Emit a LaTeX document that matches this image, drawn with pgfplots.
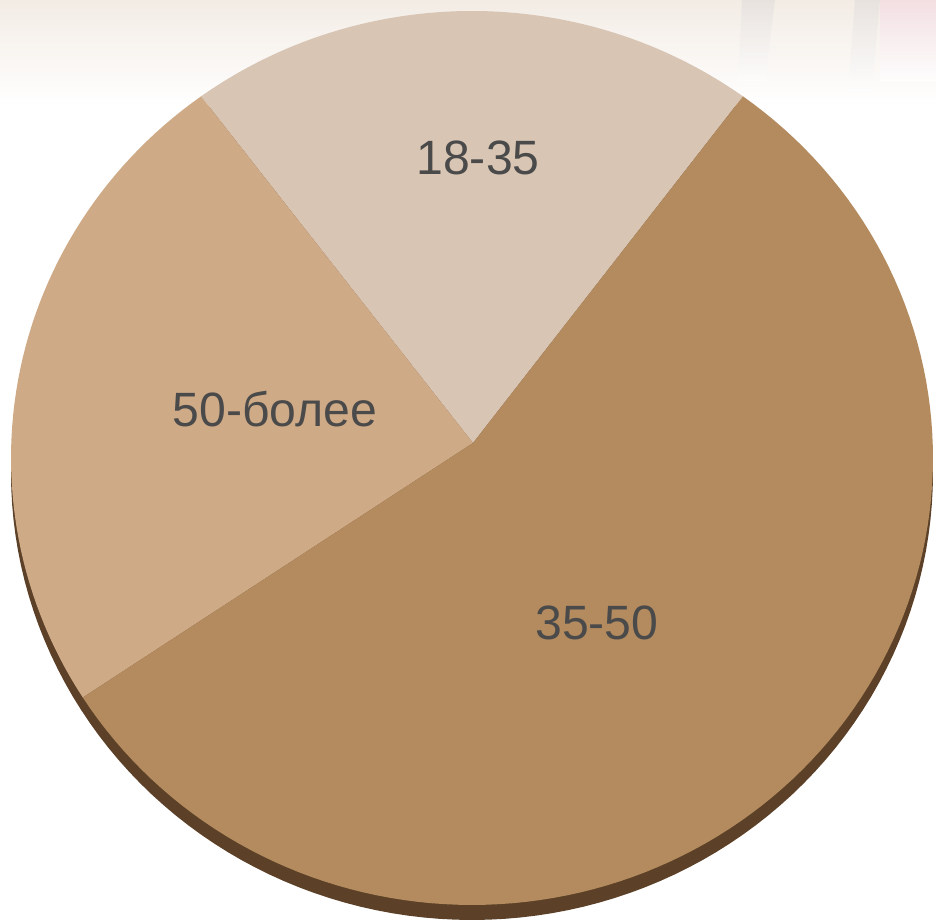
\documentclass[border=0pt]{standalone}
\usepackage{pgfplots}
\pgfplotsset{compat=1.18}
\usepackage{fontspec}
\setmainfont{Liberation Sans}
\definecolor{cA}{HTML}{D8C5B4}
\definecolor{cB}{HTML}{CFAA87}
\definecolor{cC}{HTML}{B38B5F}
\definecolor{rim}{HTML}{5C4128}
\definecolor{txt}{HTML}{4A4A4A}
\definecolor{bgtop}{HTML}{F3ECE5}
\definecolor{smear}{HTML}{DCD8D8}
\definecolor{pinkish}{HTML}{F3DCE2}
\begin{document}
\begin{tikzpicture}
% shares (percent)
\pgfmathsetmacro{\vA}{20}  % 18-35
\pgfmathsetmacro{\vB}{24}  % 50-более
\pgfmathsetmacro{\vC}{56}  % 35-50
\pgfmathsetmacro{\aStart}{54}
\pgfmathsetmacro{\aOne}{\aStart+3.6*\vA}
\pgfmathsetmacro{\aTwo}{\aOne+3.6*\vB}
\pgfmathsetmacro{\aEnd}{\aTwo+3.6*\vC}
\begin{axis}[scale only axis, width=9.36cm, height=9.21cm,
  xmin=0, xmax=936, ymin=0, ymax=921, hide axis, clip=true]
% background
\addplot[draw=none, fill=white] coordinates {(0,0) (936,0) (936,921) (0,921)} -- cycle;
\addplot[draw=none, top color=bgtop, bottom color=white] coordinates {(0,921) (936,921) (936,815) (0,815)} -- cycle;
\addplot[draw=none, top color=smear, bottom color=white, opacity=0.45] coordinates {(742,921) (775,921) (765,840) (738,840)} -- cycle;
\addplot[draw=none, top color=smear, bottom color=white, opacity=0.45] coordinates {(855,921) (880,921) (872,830) (848,830)} -- cycle;
\addplot[draw=none, top color=pinkish, bottom color=white, opacity=0.8] coordinates {(880,921) (936,921) (936,840) (880,840)} -- cycle;
% 3D rim
\addplot[draw=none, fill=rim, domain=0:360, samples=181, variable=\t]
  ({472+461*cos(t)},{448+447*sin(t)}) -- cycle;
% sectors
\addplot[draw=none, fill=cA, domain=\aStart:\aOne, samples=60, variable=\t]
  ({472+461*cos(t)},{463+447*sin(t)}) -- (axis cs:473,478) -- cycle;
\addplot[draw=none, fill=cB, domain=\aOne:\aTwo, samples=60, variable=\t]
  ({472+461*cos(t)},{463+447*sin(t)}) -- (axis cs:473,478) -- cycle;
\addplot[draw=none, fill=cC, domain=\aTwo:\aEnd, samples=120, variable=\t]
  ({472+461*cos(t)},{463+447*sin(t)}) -- (axis cs:473,478) -- cycle;
% labels
\node[font=\fontsize{13.7}{16}\selectfont, text=txt] at (axis cs:478,763) {18-35};
\node[font=\fontsize{13.7}{16}\selectfont, text=txt] at (axis cs:275,512) {50-более};
\node[font=\fontsize{13.7}{16}\selectfont, text=txt] at (axis cs:597,298) {35-50};
\end{axis}
\end{tikzpicture}
\end{document}
